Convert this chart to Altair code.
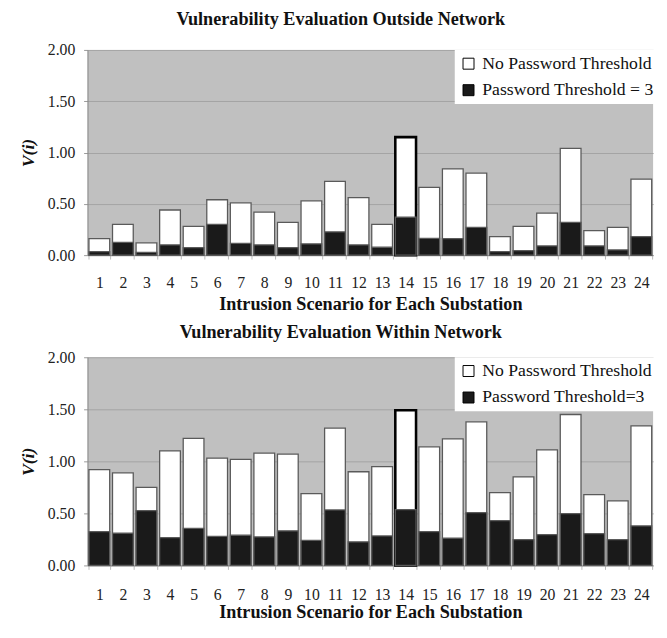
import altair as alt
import pandas as pd

scenarios = list(range(1, 25))

outside_no_pw = [0.16, 0.30, 0.12, 0.44, 0.28, 0.54, 0.51, 0.42, 0.32, 0.53, 0.72, 0.56,
                 0.30, 1.15, 0.66, 0.84, 0.80, 0.18, 0.28, 0.41, 1.04, 0.24, 0.27, 0.74]
outside_pw3 = [0.035, 0.125, 0.026, 0.10, 0.073, 0.30, 0.115, 0.10, 0.073, 0.11, 0.227, 0.10,
               0.077, 0.37, 0.163, 0.16, 0.27, 0.035, 0.045, 0.09, 0.32, 0.09, 0.051, 0.18]

within_no_pw = [0.92, 0.89, 0.75, 1.10, 1.22, 1.03, 1.02, 1.08, 1.07, 0.69, 1.32, 0.90,
                0.95, 1.49, 1.14, 1.215, 1.38, 0.70, 0.85, 1.11, 1.45, 0.68, 0.62, 1.34]
within_pw3 = [0.324, 0.31, 0.526, 0.268, 0.355, 0.28, 0.29, 0.274, 0.333, 0.24, 0.533, 0.227,
              0.283, 0.536, 0.324, 0.262, 0.508, 0.43, 0.249, 0.296, 0.498, 0.305, 0.249, 0.38]

NO_LABEL = "No Password Threshold"
top_pw_label = "Password Threshold = 3"
bottom_pw_label = "Password Threshold=3"

FONT = "Liberation Serif"


def panel(title, no_vals, pw_vals, pw_label, height, title_offset, label_pad, title_pad):
    rows = []
    for s, v in zip(scenarios, no_vals):
        rows.append({"scenario": s, "series": NO_LABEL, "value": v, "k": 0})
    for s, v in zip(scenarios, pw_vals):
        rows.append({"scenario": s, "series": pw_label, "value": v, "k": 1})
    df = pd.DataFrame(rows)
    hl = f"datum.scenario == 14 && datum.series == '{NO_LABEL}'"
    chart = alt.Chart(df).mark_bar().encode(
        x=alt.X("scenario:O",
                scale=alt.Scale(paddingInner=0.12, paddingOuter=0.06),
                axis=alt.Axis(title="Intrusion Scenario for Each Substation",
                              labelAngle=0, tickBand="extent",
                              grid=False, tickSize=4, tickColor="#bbbbbb",
                              domainColor="#8a8a8a", labelPadding=label_pad,
                              labelFont=FONT, labelFontSize=16, labelColor="#222222",
                              titleFont=FONT, titleFontSize=18.5, titleFontWeight="bold",
                              titleColor="#111111", titlePadding=title_pad)),
        y=alt.Y("value:Q", stack=None,
                scale=alt.Scale(domain=[0, 2]),
                axis=alt.Axis(title="V(i)", values=[0, 0.5, 1, 1.5, 2], format=".2f",
                              grid=True, gridColor="#a3a3a3", gridWidth=1,
                              domainColor="#8a8a8a", tickColor="#999999", tickSize=4,
                              labelPadding=9, labelFont=FONT, labelFontSize=16,
                              labelColor="#222222",
                              titleFont=FONT, titleFontSize=18, titleFontWeight="bold",
                              titleFontStyle="italic", titleColor="#111111",
                              titlePadding=10)),
        color=alt.Color("series:N",
                        scale=alt.Scale(domain=[NO_LABEL, pw_label],
                                        range=["#ffffff", "#1a1a1a"]),
                        legend=alt.Legend(title=None, orient="none",
                                          legendX=374, legendY=0,
                                          fillColor="#ffffff", padding=5,
                                          symbolType="square", symbolSize=125,
                                          symbolStrokeColor="#000000",
                                          symbolStrokeWidth=1, symbolOpacity=1,
                                          labelFont=FONT, labelFontSize=18,
                                          labelColor="#111111", rowPadding=9,
                                          labelOffset=5, labelLimit=190)),
        stroke=alt.condition(hl, alt.value("#000000"), alt.value("#5a5a5a")),
        strokeWidth=alt.condition(hl, alt.value(2.6), alt.value(1.3)),
        order=alt.Order("k:Q"),
    ).properties(
        width=576, height=height,
        title=alt.TitleParams(title, font=FONT, fontSize=18.5, fontWeight="bold",
                              color="#111111", anchor="middle", dx=-30,
                              offset=title_offset),
    )
    return chart


top = panel("Vulnerability Evaluation Outside Network", outside_no_pw, outside_pw3,
            top_pw_label, 209, 13.5, 16, 4)
bottom = panel("Vulnerability Evaluation Within Network", within_no_pw, within_pw3,
               bottom_pw_label, 212, 8, 18, 0)

chart = alt.vconcat(top, bottom, spacing=10).resolve_scale(
    color="independent"
).resolve_legend(color="independent").properties(
    padding={"left": 12, "top": -3, "right": 0, "bottom": 0},
    background="#ffffff",
).configure(font=FONT).configure_view(fill="#c0c0c0", strokeWidth=0)

chart.save("out.html", embed_options={"renderer": "svg", "actions": False})
